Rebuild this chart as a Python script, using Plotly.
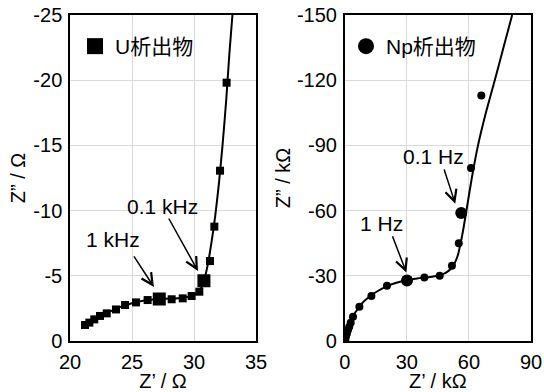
import plotly.graph_objects as go

# ---- U deposit (left) ----
u_x = [21.21, 21.56, 21.96, 22.42, 22.96, 23.71, 24.44, 25.32, 26.26, 27.20, 28.2, 29.09, 29.81, 30.43, 30.8, 31.29, 31.64, 32.1, 32.63]
u_y = [-1.23, -1.41, -1.66, -1.92, -2.12, -2.42, -2.76, -2.96, -3.14, -3.22, -3.2, -3.27, -3.45, -3.78, -4.62, -6.13, -8.77, -13.06, -19.81]
u_size = [8, 8, 8, 8, 8, 8, 8, 8, 8, 13, 8, 8, 8, 8, 13, 8, 8, 8, 8]
u_fit_x = [21.1, 22.0, 23.0, 24.0, 25.0, 26.0, 27.0, 28.0, 29.0, 29.8, 30.3, 30.6, 30.85, 31.1, 31.4, 31.7, 32.0, 32.3, 32.6, 32.85, 33.1]
u_fit_y = [-1.15, -1.65, -2.15, -2.6, -2.9, -3.1, -3.2, -3.25, -3.3, -3.45, -3.7, -4.1, -4.8, -5.8, -7.5, -9.5, -12.0, -15.0, -18.5, -22.0, -25.0]

# ---- Np deposit (right) ----
np_x = [0.3, 0.6, 1.1, 1.6, 2.2, 2.9, 4.0, 7.1, 12.9, 20.4, 30.1, 38.5, 45.9, 51.8, 55.1, 56.3, 61.0, 66.0]
np_y = [-0.46, -2.0, -3.5, -5.1, -6.6, -8.4, -11.2, -15.8, -20.7, -25.4, -27.8, -29.2, -30.0, -34.6, -45.0, -58.9, -79.6, -113.0]
np_size = [8, 8, 8, 8, 8, 8, 8, 8, 8, 8, 12, 8, 8, 8, 8, 12, 8, 8]
np_fit_x = [0, 0.5, 1.5, 3, 5, 8, 12, 16, 20, 25, 30, 35, 40, 45, 49, 52, 54.5, 56, 57.4, 58.8, 61.4, 64.4, 68.2, 72.5, 76.7, 80.9]
np_fit_y = [0, -3, -6, -10, -13, -17, -20.5, -23, -25, -26.8, -28, -28.8, -29.3, -30, -31.5, -34, -39, -45, -52, -60, -75, -90, -105, -120, -135, -150]

u_ticks_x = [20, 25, 30, 35]
u_ticks_y = [0, -5, -10, -15, -20, -25]
np_ticks_x = [0, 30, 60, 90]
np_ticks_y = [0, -30, -60, -90, -120, -150]

FONT = "Arial, 'Liberation Sans', 'Noto Sans CJK JP', sans-serif"

fig = go.Figure()
fig.add_trace(go.Scatter(x=u_fit_x, y=u_fit_y, mode="lines", line=dict(color="black", width=2, shape="spline", smoothing=0.6),
                         showlegend=False, xaxis="x", yaxis="y", hoverinfo="skip"))
fig.add_trace(go.Scatter(x=u_x, y=u_y, mode="markers",
                         marker=dict(symbol="square", size=u_size, color="black", opacity=1, line=dict(width=0)),
                         showlegend=False, xaxis="x", yaxis="y"))
fig.add_trace(go.Scatter(x=[None], y=[None], mode="markers", marker=dict(symbol="square", size=16, color="black"),
                         name="U析出物", legend="legend", xaxis="x", yaxis="y"))

fig.add_trace(go.Scatter(x=np_fit_x, y=np_fit_y, mode="lines", line=dict(color="black", width=2, shape="spline", smoothing=0.6),
                         showlegend=False, xaxis="x2", yaxis="y2", hoverinfo="skip"))
fig.add_trace(go.Scatter(x=np_x, y=np_y, mode="markers",
                         marker=dict(symbol="circle", size=np_size, color="black", opacity=1, line=dict(width=0)),
                         showlegend=False, xaxis="x2", yaxis="y2"))
fig.add_trace(go.Scatter(x=[None], y=[None], mode="markers", marker=dict(symbol="circle", size=16, color="black"),
                         name="Np析出物", legend="legend2", xaxis="x2", yaxis="y2"))

axis_common = dict(showgrid=True, gridcolor="#d9d9d9", gridwidth=1, zeroline=False,
                   showline=True, linecolor="black", linewidth=1.5, mirror=True, automargin=False,
                   ticks="", tickfont=dict(size=20, color="black", family=FONT),
                   title_font=dict(size=20, color="black", family=FONT))

fig.update_layout(
    width=544, height=392, margin=dict(l=0, r=0, t=0, b=0),
    paper_bgcolor="white", plot_bgcolor="white",
    font=dict(family=FONT, color="black"),
    xaxis=dict(domain=[70/544, 256/544], range=[20, 35], tickvals=u_ticks_x,
               ticktext=[str(v) for v in u_ticks_x], anchor="y", ticklabelstandoff=2,
               title=dict(text="Z’ / Ω", standoff=8), **axis_common),
    yaxis=dict(domain=[51/392, 377/392], range=[0, -25], tickvals=u_ticks_y,
               ticktext=[str(v) for v in u_ticks_y], anchor="x", ticklabelstandoff=2,
               title=dict(text="Z” / Ω", standoff=2), **axis_common),
    xaxis2=dict(domain=[344.7/544, 531/544], range=[0, 90], tickvals=np_ticks_x,
                ticktext=[str(v) for v in np_ticks_x], anchor="y2", ticklabelstandoff=2,
                title=dict(text="Z’ / kΩ", standoff=8), **axis_common),
    yaxis2=dict(domain=[51/392, 377/392], range=[0, -150], tickvals=np_ticks_y,
                ticktext=[str(v) for v in np_ticks_y], anchor="x2", ticklabelstandoff=2,
                title=dict(text="Z” / kΩ", standoff=1), **axis_common),
    legend=dict(x=75/544, y=1 - 26/392, xanchor="left", yanchor="top", bgcolor="rgba(0,0,0,0)",
                font=dict(size=21, family=FONT, color="black"), itemsizing="trace"),
    legend2=dict(x=346/544, y=1 - 26/392, xanchor="left", yanchor="top", bgcolor="rgba(0,0,0,0)",
                 font=dict(size=21, family=FONT, color="black"), itemsizing="trace"),
)

arrow = dict(showarrow=True, arrowhead=5, arrowsize=1.5, arrowwidth=1.5, arrowcolor="black",
             standoff=0, startstandoff=0, text="")
# arrows (head at x,y; tail at ax,ay)
fig.add_annotation(x=26.77, y=-4.14, ax=25.08, ay=-6.6, xref="x", yref="y", axref="x", ayref="y", **arrow)
fig.add_annotation(x=30.32, y=-5.37, ax=27.9, ay=-9.51, xref="x", yref="y", axref="x", ayref="y", **arrow)
fig.add_annotation(x=29.8, y=-31.5, ax=22.8, ay=-48.9, xref="x2", yref="y2", axref="x2", ayref="y2", **arrow)
fig.add_annotation(x=53.4, y=-63.2, ax=47.8, ay=-79.6, xref="x2", yref="y2", axref="x2", ayref="y2", **arrow)

lab = dict(showarrow=False, font=dict(size=21, family=FONT, color="black"))
fig.add_annotation(x=23.43, y=-7.75, xref="x", yref="y", text="1 kHz", **lab)
fig.add_annotation(x=27.42, y=-10.35, xref="x", yref="y", text="0.1 kHz", **lab)
fig.add_annotation(x=18.0, y=-53.9, xref="x2", yref="y2", text="1 Hz", **lab)
fig.add_annotation(x=42.7, y=-84.8, xref="x2", yref="y2", text="0.1 Hz", **lab)

fig.write_html("out.html")
